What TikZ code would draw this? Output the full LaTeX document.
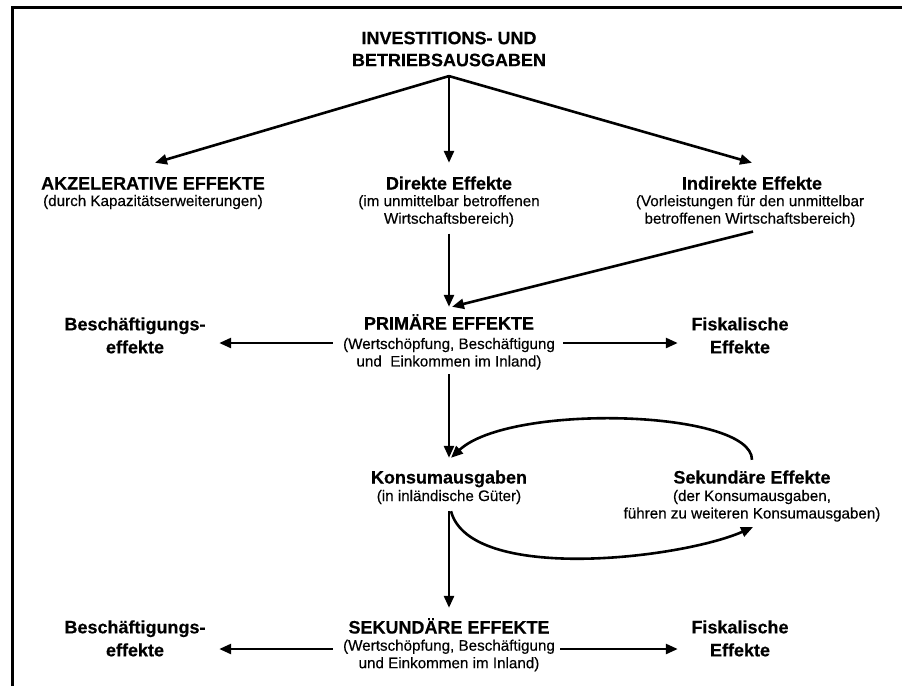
\documentclass[tikz,border=0pt]{standalone}
\usepackage{fontspec}
\setmainfont{Liberation Sans}
\newfontfamily\subfont{Liberation Sans}[FakeBold=0.35]
\newfontfamily\ttlfont{Liberation Sans Bold}[FakeBold=0.35]
\usetikzlibrary{arrows.meta}
\begin{document}
\begin{tikzpicture}[x=1pt,y=-1pt,
  ttl/.style={font=\fontsize{18}{23}\selectfont\ttlfont, align=center, inner sep=0pt},
  one/.style={anchor=base, text height=13pt, text depth=4pt},
  sub/.style={font=\fontsize{15.2}{17.5}\selectfont\subfont, align=center, inner sep=0pt},
  subone/.style={anchor=base, text height=11pt, text depth=3.5pt},
  arr/.style={line width=2.6pt, -{Triangle[length=12pt,width=10pt]}}]
\useasboundingbox (0,0) rectangle (902,686);
\draw[line width=2.2pt] (12.5,686) -- (12.5,7.5) -- (902,7.5);

% nodes
\node[ttl, font=\fontsize{18}{22}\selectfont\ttlfont] (inv) at (449,49) {INVESTITIONS- UND\\BETRIEBSAUSGABEN};
\node[ttl,one] (akzT) at (153,189.5) {AKZELERATIVE EFFEKTE};
\node[sub,subone] (akzS) at (153,206) {(durch Kapazitätserweiterungen)};
\node[ttl,one] (dirT) at (449,189.5) {Direkte Effekte};
\node[sub] (dirS) at (449,211) {(im unmittelbar betroffenen\\Wirtschaftsbereich)};
\node[ttl,one] (indT) at (752,189.5) {Indirekte Effekte};
\node[sub] (indS) at (750,211) {(Vorleistungen für den unmittelbar\\betroffenen Wirtschaftsbereich)};
\node[ttl,one] (primT) at (449,329.5) {PRIMÄRE EFFEKTE};
\node[sub] (primS) at (449,353.8) {(Wertschöpfung, Beschäftigung\\und~ Einkommen im Inland)};
\node[ttl] (b1) at (135,335.4) {Beschäftigungs-\\effekte};
\node[ttl] (f1) at (740,335.4) {Fiskalische\\Effekte};
\node[ttl,one] (konT) at (449,483.5) {Konsumausgaben};
\node[sub,subone] (konS) at (449,501) {(in inländische Güter)};
\node[ttl,one] (sekT) at (752,483.5) {Sekundäre Effekte};
\node[sub] (sekS) at (752,505.8) {(der Konsumausgaben,\\führen zu weiteren Konsumausgaben)};
\node[ttl,one] (seT) at (449,633.5) {SEKUNDÄRE EFFEKTE};
\node[sub] (seS) at (449,655.5) {(Wertschöpfung, Beschäftigung\\und Einkommen im Inland)};
\node[ttl] (b2) at (135,638.4) {Beschäftigungs-\\effekte};
\node[ttl] (f2) at (740,638.4) {Fiskalische\\Effekte};

\coordinate (r1) at (0,343);
\coordinate (r2) at (0,649);

% connectors
\draw[arr] ([yshift=-9.5pt]inv.south) -- ([xshift=2pt,yshift=13.5pt]akzT.north);
\draw[arr] ([yshift=-9.5pt]inv.south) -- ([yshift=13.5pt]dirT.north);
\draw[arr] ([yshift=-9.5pt]inv.south) -- ([yshift=13.5pt]indT.north);
\draw[arr] ([yshift=-6.5pt]dirS.south) -- ([yshift=9.5pt]primT.north);
\draw[arr] ([xshift=3pt,yshift=-4.5pt]indS.south) -- ([xshift=3pt,yshift=9.5pt]primT.north);
\draw[arr, shorten <=10pt, shorten >=13.5pt] (primS.west |- r1) -- (b1.east |- r1);
\draw[arr, shorten <=8pt, shorten >=13.5pt] (primS.east |- r1) -- (f1.west |- r1);
\draw[arr] ([yshift=-4.6pt]primS.south) -- ([yshift=12.5pt]konT.north);
\draw[arr] ([yshift=10.5pt]sekT.north) .. controls +(0,-50) and +(59,-55) .. ([xshift=2pt,yshift=12.5pt]konT.north);
\draw[arr] ([xshift=2pt,yshift=-6.5pt]konS.south) .. controls +(19,72) and +(-73,32) .. ([xshift=1pt,yshift=-5.3pt]sekS.south);
\draw[arr] ([yshift=-6.5pt]konS.south) -- ([yshift=12.5pt]seT.north);
\draw[arr, shorten <=10pt, shorten >=13.5pt] (seS.west |- r2) -- (b2.east |- r2);
\draw[arr, shorten <=5pt, shorten >=13.5pt] (seS.east |- r2) -- (f2.west |- r2);
\end{tikzpicture}
\end{document}
